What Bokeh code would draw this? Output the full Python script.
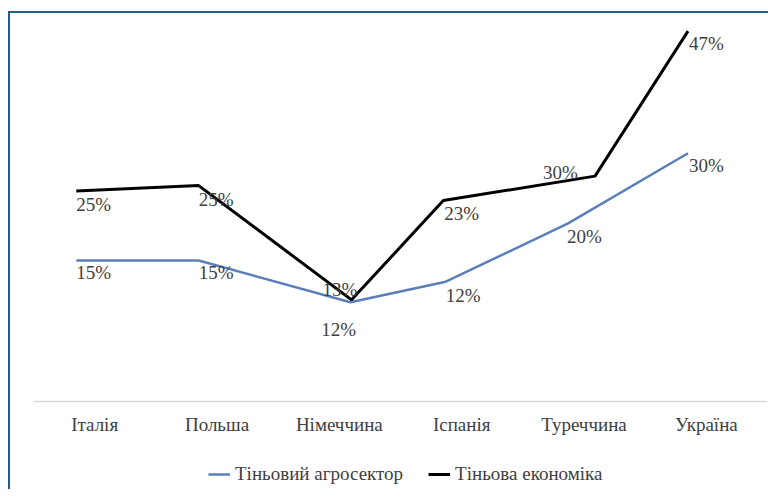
from bokeh.plotting import figure
from bokeh.models import ColumnDataSource, FixedTicker, Legend, LegendItem, Range1d
from bokeh.core.properties import value
from bokeh.embed import file_html
from bokeh.resources import INLINE

categories = ["Італія", "Польша", "Німеччина", "Іспанія", "Туреччина", "Україна"]

series_economy = "Тіньова економіка"
x_economy = [-0.15, 0.85, 2.10, 2.85, 4.09, 4.85]
economy = [26.7, 27.4, 12.9, 25.5, 28.6, 47.0]
economy_labels = ["25%", "25%", "13%", "23%", "30%", "47%"]

series_agro = "Тіньовий агросектор"
x_agro = [-0.15, 0.85, 2.09, 2.87, 3.87, 4.85]
agro = [17.9, 17.9, 12.6, 15.2, 22.6, 31.5]
agro_labels = ["15%", "15%", "12%", "12%", "20%", "30%"]

# label offsets in screen pixels (style)
econ_dx = [0, 0, -29, 1, -52, 1]
econ_dy = [13, 14, -10, 13, -4, 12]
agro_dx = [0, 0, -29, 0, -1, 1]
agro_dy = [12, 12, 27, 14, 13, 12]

FNAME = "'Liberation Serif', serif"
FONT = value(FNAME)
BLUE = "#5b7fbb"
BLACK = "#000000"
TXT = "#404040"

p = figure(width=760, height=478, output_backend="svg", toolbar_location=None,
           x_range=Range1d(-0.5, 5.5), y_range=Range1d(-11.42, 48.35),
           min_border_left=23, min_border_right=3, min_border_top=7, min_border_bottom=0)
p.styles = {"border-left": "2px solid #1f5e8a", "border-top": "2px solid #1f5e8a",
            "position": "relative", "left": "8px", "top": "11px"}
p.outline_line_color = None
p.xgrid.visible = False
p.ygrid.visible = False
p.yaxis.visible = False

ax = p.xaxis[0]
ax.fixed_location = 0
ax.ticker = FixedTicker(ticks=list(range(len(categories))))
ax.major_label_overrides = {i: c for i, c in enumerate(categories)}
ax.major_tick_line_color = None
ax.minor_tick_line_color = None
ax.axis_line_color = "#d9d9d9"
ax.axis_line_width = 1.5
ax.major_label_text_font = FNAME
ax.major_label_text_font_size = "19px"
ax.major_label_text_color = TXT
ax.major_label_standoff = 6

src_a = ColumnDataSource(dict(x=x_agro, y=agro, t=agro_labels, dx=agro_dx, dy=agro_dy))
src_e = ColumnDataSource(dict(x=x_economy, y=economy, t=economy_labels, dx=econ_dx, dy=econ_dy))

ra = p.line("x", "y", source=src_a, line_color=BLUE, line_width=2.5)
re = p.line("x", "y", source=src_e, line_color=BLACK, line_width=3)

p.text("x", "y", text="t", source=src_a, x_offset="dx", y_offset="dy",
       text_font=FONT, text_font_size="19px", text_color=TXT,
       text_align="left", text_baseline="middle")
p.text("x", "y", text="t", source=src_e, x_offset="dx", y_offset="dy",
       text_font=FONT, text_font_size="19px", text_color=TXT,
       text_align="left", text_baseline="middle")

legend = Legend(items=[LegendItem(label=series_agro, renderers=[ra]),
                       LegendItem(label=series_economy, renderers=[re])],
                orientation="horizontal", location=(175, 6),
                label_text_font=FNAME, label_text_font_size="19px",
                label_text_color=TXT, glyph_width=22, glyph_height=20, label_height=20,
                label_standoff=5, spacing=25, padding=0, margin=0,
                border_line_color=None, background_fill_alpha=0)
p.add_layout(legend)

open("out.html", "w").write(file_html(p, INLINE))
